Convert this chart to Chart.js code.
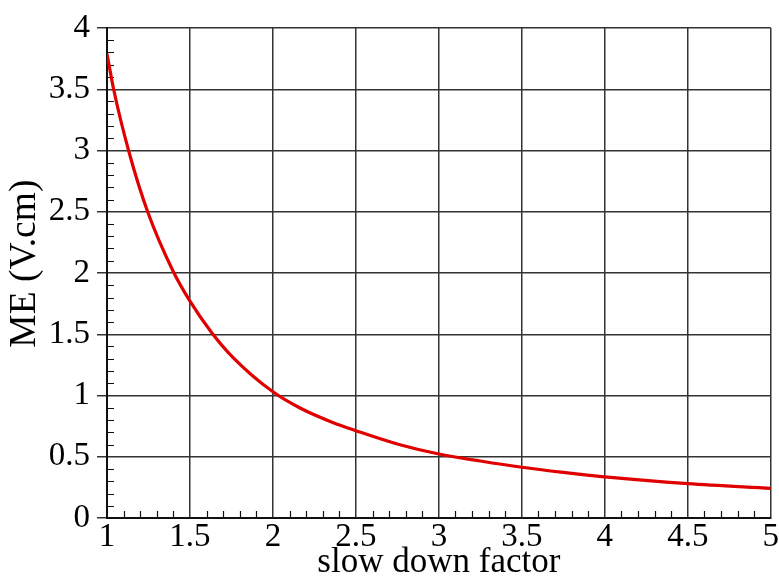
<!DOCTYPE html>
<html>
<head>
<meta charset="utf-8">
<script src="https://cdn.jsdelivr.net/npm/chart.js@4.4.1/dist/chart.umd.min.js"></script>
<style>
  html, body { margin: 0; padding: 0; background: #fff; overflow: hidden; }
  #wrap { width: 779px; height: 580px; position: relative; }
</style>
</head>
<body>
<div id="wrap"><canvas id="c"></canvas></div>
<script>
// Data
const slowDownFactor = [1.0, 1.04, 1.13, 1.245, 1.4, 1.5, 1.63, 1.76, 2.0, 2.16, 2.36, 2.5, 2.76, 3.0, 3.25, 3.5, 3.75, 4.0, 4.5, 5.0];
const meValues       = [3.79, 3.50, 3.00, 2.50, 2.01, 1.77, 1.515, 1.31, 1.03, 0.90, 0.78, 0.713, 0.60, 0.522, 0.465, 0.414, 0.372, 0.335, 0.28, 0.242];
const xTickLabels = ['1', '1.5', '2', '2.5', '3', '3.5', '4', '4.5', '5'];
const yTickLabels = ['0', '0.5', '1', '1.5', '2', '2.5', '3', '3.5', '4'];
const xTitle = 'slow down factor';
const yTitle = '  ME (V.cm)';

const points = slowDownFactor.map((x, i) => ({ x: x, y: meValues[i] }));

const minorTicks = {
  id: 'minorTicks',
  beforeDatasetsDraw(chart) {
    const { ctx, scales: { x, y }, chartArea: a } = chart;
    ctx.save();
    ctx.strokeStyle = '#111';
    ctx.lineWidth = 1.2;
    ctx.beginPath();
    for (let i = 1; i < 40; i++) {
      if (i % 5 === 0) continue;
      const px = Math.round(x.getPixelForValue(1 + i * 0.1)) + 0.5;
      ctx.moveTo(px, a.bottom);
      ctx.lineTo(px, a.bottom - 7);
    }
    for (let i = 1; i < 40; i++) {
      if (i % 5 === 0) continue;
      const py = Math.round(y.getPixelForValue(i * 0.1)) + 0.5;
      ctx.moveTo(a.left, py);
      ctx.lineTo(a.left + 7, py);
    }
    ctx.stroke();
    ctx.restore();
  }
};

const font = 'Liberation Serif';
new Chart(document.getElementById('c'), {
  type: 'line',
  data: {
    datasets: [{
      data: points,
      borderColor: '#e00000',
      borderWidth: 3.2,
      pointRadius: 0,
      cubicInterpolationMode: 'monotone',
      fill: false
    }]
  },
  options: {
    responsive: true,
    maintainAspectRatio: false,
    animation: false,
    layout: { padding: { top: 28, right: 6, left: 0, bottom: 0 } },
    plugins: { legend: { display: false }, tooltip: { enabled: false } },
    scales: {
      x: {
        type: 'linear', min: 1, max: 5,
        afterFit: s => { s.height = 62; },
        ticks: {
          stepSize: 0.5, color: '#000', padding: 0, maxRotation: 0,
          font: { family: font, size: 33 },
          callback: (v, i) => xTickLabels[i]
        },
        grid: { color: '#333', lineWidth: 1.5, drawTicks: false },
        border: { color: '#111', width: 2 },
        title: { display: true, text: xTitle, color: '#000', padding: 0,
                 font: { family: font, size: 35, lineHeight: 1.0 } }
      },
      y: {
        type: 'linear', min: 0, max: 4,
        afterFit: s => { s.width = 107; },
        ticks: {
          stepSize: 0.5, color: '#000', padding: 7,
          font: { family: font, size: 33 },
          callback: (v, i) => yTickLabels[i]
        },
        grid: { color: '#333', lineWidth: 1.5, drawTicks: true, tickLength: 10 },
        border: { color: '#111', width: 2 },
        title: { display: true, text: yTitle, color: '#000', padding: { top: 6, bottom: 0 },
                 font: { family: font, size: 37.5, lineHeight: 1.0 } }
      }
    }
  },
  plugins: [minorTicks]
});
</script>
</body>
</html>
